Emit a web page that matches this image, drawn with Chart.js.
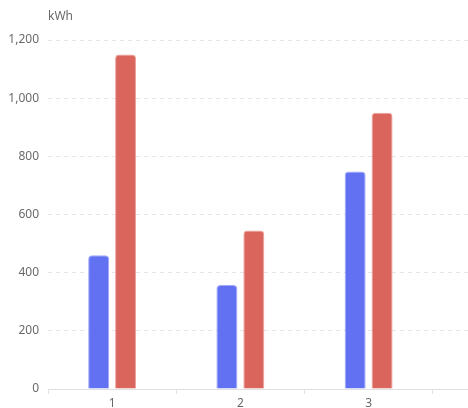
<!DOCTYPE html>
<html>
<head>
<meta charset="utf-8">
<script src="https://cdn.jsdelivr.net/npm/chart.js@4/dist/chart.umd.min.js"></script>
<style>
html,body{margin:0;padding:0;overflow:hidden;background:#fff;}
#wrap{position:relative;width:561px;height:408px;}
</style>
</head>
<body>
<div id="wrap"><canvas id="c"></canvas></div>
<script>
const categories = ['1', '2', '3', ''];
const seriesA = [460, 358, 748, null];
const seriesB = [1150, 545, 950, null];
const yTicks = [0, 200, 400, 600, 800, 1000, 1200];
const unitLabel = 'kWh';

const FONT = {family: '"Noto Sans", "DejaVu Sans", sans-serif', size: 12};
const TEXT = '#6a6a6a';

const unitPlugin = {
  id: 'unitLabel',
  afterDraw(chart) {
    const ctx = chart.ctx;
    ctx.save();
    ctx.font = '12px ' + FONT.family;
    ctx.fillStyle = TEXT;
    ctx.textAlign = 'left';
    ctx.textBaseline = 'middle';
    ctx.fillText(unitLabel, chart.chartArea.left, 17);
    ctx.restore();
  }
};

new Chart(document.getElementById('c'), {
  type: 'bar',
  data: {
    labels: categories,
    datasets: [
      {data: seriesA, backgroundColor: '#6271f1', borderColor: 'rgba(150,160,250,0.9)', borderWidth: 1, borderRadius: 4, borderSkipped: 'start'},
      {data: seriesB, backgroundColor: '#d9655d', borderColor: 'rgba(236,150,145,0.9)', borderWidth: 1, borderRadius: 4, borderSkipped: 'start'}
    ]
  },
  options: {
    responsive: true,
    maintainAspectRatio: false,
    animation: false,
    layout: {padding: {top: 40, right: 0, left: 0, bottom: 0}},
    datasets: {bar: {categoryPercentage: 0.42, barPercentage: 0.78}},
    plugins: {legend: {display: false}, tooltip: {enabled: false}},
    scales: {
      x: {
        offset: true,
        grid: {display: true, drawOnChartArea: false, drawTicks: true, tickLength: 5, color: '#e0e0e0', offset: true},
        border: {display: true, color: '#e0e0e0'},
        ticks: {font: FONT, color: TEXT, padding: 2, maxRotation: 0},
        afterFit(s) { s.height = 19; }
      },
      y: {
        min: 0, max: 1200,
        afterBuildTicks(s) { s.ticks = yTicks.map(v => ({value: v})); },
        grid: {color: '#e6e6e6', drawTicks: false, tickLength: 0},
        border: {display: false, dash: [4, 4]},
        ticks: {font: FONT, color: TEXT, padding: 9,
          callback: v => v.toLocaleString('en-US')},
        afterFit(s) { s.width = 48; }
      }
    }
  },
  plugins: [unitPlugin]
});
</script>
</body>
</html>
